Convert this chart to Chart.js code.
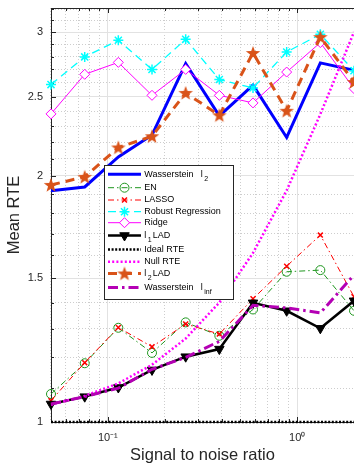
<!DOCTYPE html>
<html>
<head>
<meta charset="utf-8">
<script src="https://cdn.jsdelivr.net/npm/chart.js@4.4.0/dist/chart.umd.min.js"></script>
<style>
    html, body { margin: 0; padding: 0; background: #fff; overflow: hidden; }
</style>
</head>
<body>
<canvas id="Chart1" width="354" height="466"></canvas>
<script>
// signal to noise ratio (x values)
let snr = [0.0501, 0.0755, 0.1136, 0.1711, 0.2577, 0.3880, 0.5843, 0.8799, 1.3251, 1.9953];

// mean RTE per method
let wassersteinL2 = [1.918, 1.939, 2.11, 2.244, 2.745, 2.369, 2.583, 2.229, 2.75, 2.694];
let en = [1.082, 1.18, 1.304, 1.215, 1.324, 1.275, 1.373, 1.527, 1.534, 1.368];
let lasso = [1.062, 1.182, 1.305, 1.236, 1.318, 1.281, 1.415, 1.551, 1.693, 1.423];
let robust = [2.587, 2.797, 2.931, 2.70, 2.939, 2.624, 2.563, 2.836, 2.981, 2.69];
let ridge = [2.382, 2.663, 2.754, 2.51, 2.70, 2.51, 2.457, 2.68, 2.912, 2.558];
let l1Lad = [1.052, 1.074, 1.102, 1.158, 1.202, 1.228, 1.399, 1.368, 1.302, 1.407];
let idealRte = [1, 1, 1, 1, 1, 1, 1, 1, 1, 1];
let nullRte = [1.05, 1.076, 1.115, 1.175, 1.265, 1.40, 1.61, 1.92, 2.38, 3.0];
let l2Lad = [1.950, 1.995, 2.167, 2.237, 2.527, 2.373, 2.828, 2.403, 2.958, 2.606];
let wassersteinInf = [1.052, 1.074, 1.10, 1.16, 1.20, 1.255, 1.389, 1.379, 1.36, 1.513];

// legend texts: [text, subscript, rest]
let legendLabels = [
    ['Wasserstein l', '2'],
    ['EN'],
    ['LASSO'],
    ['Robust Regression'],
    ['Ridge'],
    ['l', '1', 'LAD'],
    ['Ideal RTE'],
    ['Null RTE'],
    ['l', '2', 'LAD'],
    ['Wasserstein l', 'inf']
];

// ticks (minor ones have no label)
let xTicks = [0.05, 0.06, 0.07, 0.08, 0.09, 0.1, 0.2, 0.3, 0.4, 0.5, 0.6, 0.7, 0.8, 0.9, 1];
let xLabels = { 0.1: '10\u207B\u00B9', 1: '10\u2070' };
let yTicks = [1, 1.1, 1.2, 1.3, 1.4, 1.5, 1.6, 1.7, 1.8, 1.9, 2, 2.1, 2.2, 2.3, 2.4, 2.5, 2.6, 2.7, 2.8, 2.9, 3, 3.1, 3.2];
let yLabels = { 1: '1', 1.5: '1.5', 2: '2', 2.5: '2.5', 3: '3' };

const FONT = '"Liberation Sans", Arial, Helvetica, sans-serif';
const AXIS = '#262626';

function points(ys) {
    return snr.map((x, i) => ({ x: x, y: ys[i] }));
}

// filled five point star for the l2 LAD markers
function starMarker(color) {
    let cv = document.createElement('canvas');
    cv.width = 16;
    cv.height = 16;
    let c = cv.getContext('2d');
    c.fillStyle = color;
    c.beginPath();
    for (let k = 0; k < 10; k++) {
        let r = k % 2 == 0 ? 7.6 : 3.1;
        let a = -Math.PI / 2 + k * Math.PI / 5;
        let px = 8 + r * Math.cos(a);
        let py = 8.6 + r * Math.sin(a);
        if (k == 0) c.moveTo(px, py); else c.lineTo(px, py);
    }
    c.closePath();
    c.fill();
    return cv;
}

function isMajor(list, ctx) {
    return ctx.tick && list[ctx.tick.value] !== undefined;
}

// box, inward ticks
const axisDecor = {
    id: 'axisDecor',
    beforeDatasetsDraw(chart) {
        const c = chart.ctx;
        const a = chart.chartArea;
        const xs = chart.scales.x;
        const ys = chart.scales.y;
        c.save();
        c.strokeStyle = AXIS;
        c.lineWidth = 1;
        c.beginPath();
        c.moveTo(a.left, a.top + 0.5);
        c.lineTo(a.right, a.top + 0.5);
        xTicks.forEach(v => {
            let px = Math.round(xs.getPixelForValue(v)) + 0.5;
            let len = xLabels[v] !== undefined ? 5 : 3;
            c.moveTo(px, a.bottom);
            c.lineTo(px, a.bottom - len);
            c.moveTo(px, a.top);
            c.lineTo(px, a.top + len);
        });
        yTicks.forEach(v => {
            let py = Math.round(ys.getPixelForValue(v)) + 0.5;
            let len = yLabels[v] !== undefined ? 5 : 3;
            c.moveTo(a.left, py);
            c.lineTo(a.left + len, py);
        });
        c.stroke();
        c.restore();
    },
    afterDraw(chart) {
        drawLegend(chart);
    }
};

// legend rows (MATLAB style, with subscripts)
function drawLegend(chart) {
    const c = chart.ctx;
    let rows = [174.3, 187.7, 200, 211.7, 222.7, 235.5, 249.5, 261.7, 273.5, 287.5];
    c.save();
    c.fillStyle = '#fff';
    c.fillRect(104, 165, 130, 134);
    c.strokeStyle = AXIS;
    c.lineWidth = 1;
    c.strokeRect(104.5, 165.5, 129, 134);

    chart.data.datasets.forEach((ds, i) => {
        let y = rows[i];
        c.save();
        c.strokeStyle = ds.borderColor;
        c.lineWidth = ds.borderWidth;
        c.setLineDash(ds.borderDash || []);
        c.beginPath();
        c.moveTo(108, y);
        c.lineTo(141, y);
        c.stroke();
        c.restore();

        if (ds.pointRadius > 0) {
            c.save();
            c.fillStyle = ds.pointBackgroundColor;
            c.strokeStyle = ds.pointBorderColor;
            c.lineWidth = ds.pointBorderWidth;
            Chart.helpers.drawPoint(c, {
                pointStyle: ds.pointStyle,
                radius: ds.pointRadius,
                rotation: ds.pointRotation || 0,
                borderWidth: ds.pointBorderWidth
            }, 124.5, y);
            c.restore();
        }

        let parts = legendLabels[i];
        let x = 144.3;
        let head = parts[0];
        c.fillStyle = '#000';
        c.textBaseline = 'middle';
        c.font = '9px ' + FONT;
        if (head.endsWith(' l')) {
            let word = head.slice(0, -2);
            c.fillText(word, x, y);
            x += c.measureText(word).width + 7.2;
            head = 'l';
        }
        c.fillText(head, x, y);
        x += c.measureText(head).width;
        if (parts[1]) {
            c.font = '7px ' + FONT;
            c.fillText(parts[1], x + 1.5, y + 4.5);
            x += 1.5 + c.measureText(parts[1]).width + 1;
            c.font = '9px ' + FONT;
        }
        if (parts[2]) {
            c.fillText(parts[2], x, y);
        }
    });
    c.restore();
}

function chart1() {
    let chart = document.getElementById('Chart1').getContext('2d');
    let star = starMarker('#d95319');

    let datasets = [
        {
            label: 'Wasserstein l2', data: points(wassersteinL2),
            borderColor: '#0000ff', borderWidth: 3, pointRadius: 0
        },
        {
            label: 'EN', data: points(en),
            borderColor: '#1e961e', borderWidth: 1, borderDash: [6, 3, 1.5, 3],
            pointStyle: 'circle', pointRadius: 4.5, pointBorderWidth: 1,
            pointBorderColor: '#1e961e', pointBackgroundColor: 'rgba(0,0,0,0)'
        },
        {
            label: 'LASSO', data: points(lasso),
            borderColor: '#ff0000', borderWidth: 1, borderDash: [6, 3, 1.5, 3],
            pointStyle: 'crossRot', pointRadius: 3.5, pointBorderWidth: 1.5,
            pointBorderColor: '#ff0000', pointBackgroundColor: 'rgba(0,0,0,0)'
        },
        {
            label: 'Robust Regression', data: points(robust),
            borderColor: '#00ffff', borderWidth: 1.3, borderDash: [8, 5],
            pointStyle: 'star', pointRadius: 5, pointBorderWidth: 1.5,
            pointBorderColor: '#00ffff', pointBackgroundColor: 'rgba(0,0,0,0)'
        },
        {
            label: 'Ridge', data: points(ridge),
            borderColor: '#ff00ff', borderWidth: 1,
            pointStyle: 'rectRot', pointRadius: 5, pointBorderWidth: 1,
            pointBorderColor: '#ff00ff', pointBackgroundColor: '#fff'
        },
        {
            label: 'l1 LAD', data: points(l1Lad),
            borderColor: '#000000', borderWidth: 2.5,
            pointStyle: 'triangle', pointRotation: 180, pointRadius: 5.5, pointBorderWidth: 1,
            pointBorderColor: '#000', pointBackgroundColor: '#000'
        },
        {
            label: 'Ideal RTE', data: points(idealRte),
            borderColor: '#000000', borderWidth: 2.5, borderDash: [2, 1.6], pointRadius: 0
        },
        {
            label: 'Null RTE', data: points(nullRte),
            borderColor: '#ff00ff', borderWidth: 2.5, borderDash: [2, 2.2], pointRadius: 0
        },
        {
            label: 'l2 LAD', data: points(l2Lad),
            borderColor: '#d95319', borderWidth: 3, borderDash: [9, 6],
            pointStyle: star, pointRadius: 8, pointBorderWidth: 0,
            pointBorderColor: '#d95319', pointBackgroundColor: '#d95319'
        },
        {
            label: 'Wasserstein linf', data: points(wassersteinInf),
            borderColor: '#b400b4', borderWidth: 3, borderDash: [10, 4, 2.5, 4], pointRadius: 0
        }
    ];
    // later series on top, like MATLAB
    datasets.forEach((ds, i) => {
        ds.order = -i;
        ds.clip = false;
        ds.tension = 0;
        ds.fill = false;
    });

    new Chart(chart, {
        type: 'line',
        data: { datasets: datasets },
        options: {
            responsive: false,
            animation: false,
            devicePixelRatio: 1,
            layout: { autoPadding: false, padding: { top: 8, right: 0, left: 0, bottom: 0 } },
            plugins: {
                legend: { display: false },
                tooltip: { enabled: false }
            },
            scales: {
                x: {
                    type: 'logarithmic',
                    min: 0.0501,
                    max: 1.9953,
                    afterBuildTicks: (s) => { s.ticks = xTicks.map(v => ({ value: v })); },
                    afterFit: (s) => { s.height = 44; },
                    ticks: {
                        autoSkip: false, maxRotation: 0, padding: 9,
                        color: AXIS, font: { family: FONT, size: 11 },
                        callback: (v) => xLabels[v] || ''
                    },
                    grid: {
                        drawTicks: false, lineWidth: 1,
                        color: (ctx) => isMajor(xLabels, ctx) ? '#e2e2e2' : '#cdcdcd'
                    },
                    border: {
                        color: AXIS, width: 1,
                        dash: (ctx) => isMajor(xLabels, ctx) ? [] : [1, 2]
                    },
                    title: {
                        display: true, text: 'Signal to noise ratio', color: AXIS,
                        font: { family: FONT, size: 16.5 }, padding: { top: 0, bottom: 1 }
                    }
                },
                y: {
                    type: 'logarithmic',
                    min: 1,
                    max: 3.21,
                    afterBuildTicks: (s) => { s.ticks = yTicks.map(v => ({ value: v })); },
                    afterFit: (s) => { s.width = 51; },
                    ticks: {
                        autoSkip: false, padding: 8,
                        color: AXIS, font: { family: FONT, size: 11, lineHeight: 0 },
                        callback: (v) => yLabels[v] || ''
                    },
                    grid: {
                        drawTicks: false, lineWidth: 1,
                        color: (ctx) => isMajor(yLabels, ctx) ? '#e2e2e2' : '#cdcdcd'
                    },
                    border: {
                        color: AXIS, width: 1,
                        dash: (ctx) => isMajor(yLabels, ctx) ? [] : [1, 2]
                    },
                    title: {
                        display: true, text: 'Mean RTE', color: AXIS,
                        font: { family: FONT, size: 16.5 }, padding: { top: 5, bottom: 0 }
                    }
                }
            }
        },
        plugins: [axisDecor]
    });
}

window.onload = () => {
    chart1();
};
</script>
</body>
</html>
